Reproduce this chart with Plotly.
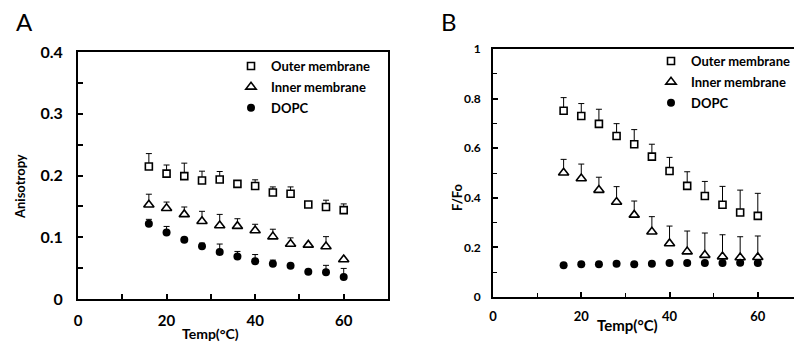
import plotly.graph_objects as go

temps = [16, 20, 24, 28, 32, 36, 40, 44, 48, 52, 56, 60]
series_names = ["Outer membrane", "Inner membrane", "DOPC"]

# Panel A: anisotropy
aniso_outer = [0.2145, 0.203, 0.199, 0.192, 0.1935, 0.1865, 0.183, 0.1725, 0.1705, 0.153, 0.149, 0.144]
aniso_outer_err = [0.021, 0.014, 0.021, 0.015, 0.013, 0.005, 0.010, 0.009, 0.011, 0.002, 0.011, 0.010]
aniso_inner = [0.1527, 0.147, 0.137, 0.126, 0.119, 0.118, 0.111, 0.101, 0.089, 0.0876, 0.085, 0.064]
aniso_inner_err = [0.017, 0.010, 0.012, 0.016, 0.018, 0.012, 0.010, 0.012, 0.010, 0.001, 0.016, 0.001]
aniso_dopc = [0.122, 0.1075, 0.096, 0.0855, 0.076, 0.069, 0.061, 0.057, 0.054, 0.044, 0.0435, 0.0355]
aniso_dopc_err = [0.007, 0.010, 0.003, 0.005, 0.013, 0.008, 0.011, 0.006, 0.002, 0.001, 0.011, 0.014]

# Panel B: F/Fo
ffo_outer = [0.751, 0.730, 0.698, 0.649, 0.616, 0.566, 0.508, 0.448, 0.407, 0.372, 0.341, 0.327]
ffo_outer_err = [0.053, 0.050, 0.059, 0.050, 0.059, 0.050, 0.055, 0.057, 0.059, 0.074, 0.090, 0.091]
ffo_inner = [0.501, 0.478, 0.431, 0.383, 0.331, 0.263, 0.216, 0.183, 0.169, 0.163, 0.159, 0.160]
ffo_inner_err = [0.054, 0.058, 0.052, 0.062, 0.056, 0.061, 0.070, 0.083, 0.089, 0.088, 0.084, 0.086]
ffo_dopc = [0.128, 0.132, 0.132, 0.134, 0.132, 0.134, 0.137, 0.137, 0.137, 0.137, 0.138, 0.137]
ffo_dopc_err = [0.0, 0.0, 0.0, 0.0, 0.0, 0.0, 0.0, 0.0, 0.0, 0.0, 0.0, 0.0]

FONT = "Lato"
W, H = 794, 348

styles = [
    dict(symbol="square", size=7, color="white", line=dict(color="black", width=1.6)),
    dict(symbol="triangle-up", size=9, color="white", line=dict(color="black", width=1.6)),
    dict(symbol="circle", size=8, color="black", line=dict(color="black", width=0)),
]

fig = go.Figure()

def add_panel(ys, errs, xa, ya, legend, show):
    for name, y, e, st in zip(series_names, ys, errs, styles):
        fig.add_trace(go.Scatter(
            x=temps, y=y, mode="markers", name=name,
            marker=st,
            error_y=dict(type="data", array=e, arrayminus=[0] * len(e), symmetric=False,
                         color="black", thickness=1, width=3),
            xaxis=xa, yaxis=ya, legend=legend, legendgroup=legend + name,
            showlegend=show,
        ))

add_panel([aniso_outer, aniso_inner, aniso_dopc], [aniso_outer_err, aniso_inner_err, aniso_dopc_err],
          "x", "y", "legend", True)
add_panel([ffo_outer, ffo_inner, ffo_dopc], [ffo_outer_err, ffo_inner_err, ffo_dopc_err],
          "x2", "y2", "legend2", True)

def px(x):
    return x / W

def py(y):
    return 1 - y / H

axis_common = dict(showgrid=False, zeroline=False, showline=True, linecolor="black",
                   ticks="inside", tickcolor="black", ticklen=5, tickwidth=1.5)

fig.update_layout(
    width=W, height=H, margin=dict(l=0, r=0, t=0, b=0, autoexpand=False),
    paper_bgcolor="white", plot_bgcolor="white",
    font=dict(family=FONT, color="black"),
    xaxis=dict(domain=[px(78), px(388)], range=[0, 70], dtick=20, tick0=0,
               minor=dict(dtick=10, ticks="inside", ticklen=5, tickcolor="black", tickwidth=1.5),
               mirror=True, linewidth=2, ticklabelstandoff=7,
               tickfont=dict(size=15, family=FONT, weight="bold"), **axis_common),
    yaxis=dict(domain=[py(299), py(52)], range=[0, 0.4], dtick=0.1, tick0=0,
               tickformat="~g",
               minor=dict(dtick=0.05, ticks="inside", ticklen=5, tickcolor="black", tickwidth=1.5),
               mirror=True, linewidth=2, ticklabelstandoff=10,
               tickfont=dict(size=16, family=FONT, weight="bold"), **axis_common),
    xaxis2=dict(domain=[px(493), 1.0], range=[0, 68.2], dtick=20, tick0=0, anchor="y2",
                minor=dict(dtick=10, ticks="inside", ticklen=4, tickcolor="black", tickwidth=1.2),
                mirror=True, linewidth=1.6, ticklabelstandoff=7,
                tickfont=dict(size=13, family=FONT, weight="bold"), **axis_common),
    yaxis2=dict(domain=[py(297), py(49)], range=[0, 1], dtick=0.2, tick0=0, anchor="x2",
                tickformat="~g",
                minor=dict(dtick=0.1, ticks="inside", ticklen=4, tickcolor="black", tickwidth=1.2),
                mirror=False, linewidth=1.6, ticklabelstandoff=8,
                tickfont=dict(size=12, family=FONT, weight="bold"), **axis_common),
    legend=dict(x=px(231), y=py(51), xanchor="left", yanchor="top", bgcolor="rgba(0,0,0,0)",
                font=dict(size=13, family=FONT, weight="bold"), itemwidth=30, tracegroupgap=1),
    legend2=dict(x=px(651), y=py(46), xanchor="left", yanchor="top", bgcolor="rgba(0,0,0,0)",
                 font=dict(size=13, family=FONT, weight="bold"), itemwidth=30, tracegroupgap=1),
)

annots = [
    dict(text="A", x=px(24), y=py(22), font=dict(size=24, family=FONT)),
    dict(text="B", x=px(449), y=py(22), font=dict(size=24, family=FONT)),
    dict(text="Temp(°C)", x=px(210), y=py(333), font=dict(size=14, family=FONT, weight="bold")),
    dict(text="Temp(°C)", x=px(627), y=py(325), font=dict(size=15, family=FONT, weight="bold")),
    dict(text="Anisotropy", x=px(20), y=py(187), textangle=-90, font=dict(size=13, family=FONT, weight="bold")),
    dict(text="F/Fo", x=px(457), y=py(197), textangle=-90, font=dict(size=13, family=FONT, weight="bold")),
]
for a in annots:
    fig.add_annotation(xref="paper", yref="paper", showarrow=False, xanchor="center", yanchor="middle", **a)

fig.write_html("out.html", config={"displayModeBar": False},
               post_script="document.body.style.margin='0';")
